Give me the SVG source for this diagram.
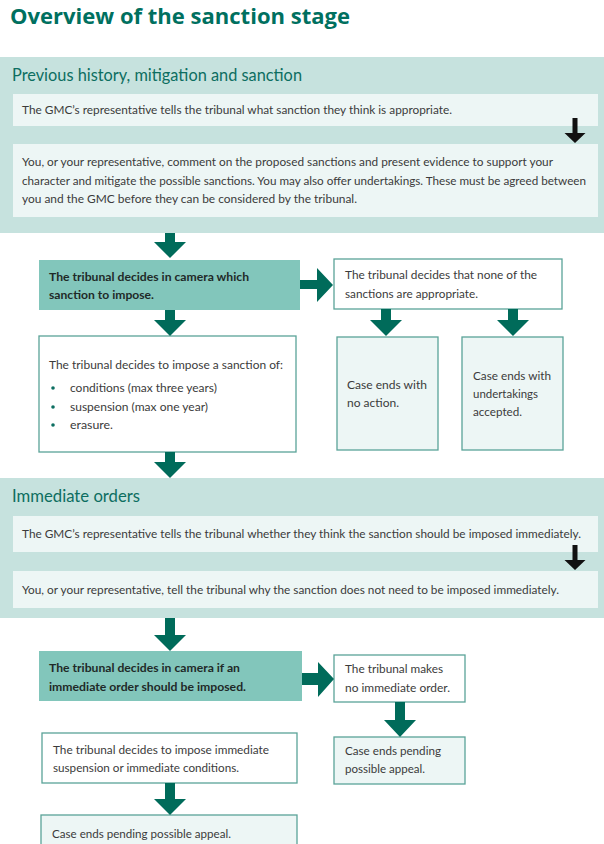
<svg xmlns="http://www.w3.org/2000/svg" width="604" height="844" viewBox="0 0 604 844">
<style>
.t{font-family:Lato,"Open Sans","Liberation Sans",sans-serif;font-size:12px;fill:#3b3b3b}
.b{font-weight:bold;fill:#1f2a28}
.h{font-family:Lato,"Open Sans","Liberation Sans",sans-serif;font-size:16.5px;fill:#0d6e61}
.title{font-family:"Open Sans",Lato,"Liberation Sans",sans-serif;font-size:22px;font-weight:bold;fill:#00705f}
.panel{fill:#c6e2de}
.inner{fill:#edf6f5}
.dark{fill:#82c6bb}
.wbox{fill:#ffffff;stroke:#5aa398;stroke-width:1.3}
.lbox{fill:#edf6f5;stroke:#5aa398;stroke-width:1.3}
.ga{fill:#006b5a}
.ba{fill:#111111}
</style>
<rect width="604" height="844" fill="#ffffff"/>
<text class="title" x="10" y="24" textLength="340" lengthAdjust="spacingAndGlyphs">Overview of the sanction stage</text>

<g id="panel-previous">
<rect class="panel" x="0" y="57" width="604" height="176"/>
<text class="h" x="12" y="81" textLength="290" lengthAdjust="spacingAndGlyphs">Previous history, mitigation and sanction</text>
</g>
<g id="gmc-sanction">
<rect class="inner" x="13" y="94" width="585" height="32"/>
<text class="t" x="22" y="114" textLength="430" lengthAdjust="spacingAndGlyphs">The GMC’s representative tells the tribunal what sanction they think is appropriate.</text>
</g>
<g id="you-comment">
<rect class="inner" x="13" y="144" width="585" height="73"/>
<text class="t" x="22" y="166" textLength="531" lengthAdjust="spacingAndGlyphs">You, or your representative, comment on the proposed sanctions and present evidence to support your</text>
<text class="t" x="22" y="185" textLength="564" lengthAdjust="spacingAndGlyphs">character and mitigate the possible sanctions. You may also offer undertakings. These must be agreed between</text>
<text class="t" x="22" y="203" textLength="335" lengthAdjust="spacingAndGlyphs">you and the GMC before they can be considered by the tribunal.</text>
</g>
<g id="decide-sanction">
<rect class="dark" x="39" y="260" width="261" height="50"/>
<text class="t b" x="49" y="281" textLength="200" lengthAdjust="spacingAndGlyphs">The tribunal decides in camera which</text>
<text class="t b" x="49" y="299" textLength="105" lengthAdjust="spacingAndGlyphs">sanction to impose.</text>
</g>
<g id="none-appropriate">
<rect class="wbox" x="334" y="259" width="228" height="50"/>
<text class="t" x="345" y="279" textLength="192" lengthAdjust="spacingAndGlyphs">The tribunal decides that none of the</text>
<text class="t" x="345" y="298" textLength="133" lengthAdjust="spacingAndGlyphs">sanctions are appropriate.</text>
</g>
<g id="no-action">
<rect class="lbox" x="337" y="337" width="101" height="113"/>
<text class="t" x="347" y="389" textLength="80" lengthAdjust="spacingAndGlyphs">Case ends with</text>
<text class="t" x="347" y="407" textLength="52" lengthAdjust="spacingAndGlyphs">no action.</text>
</g>
<g id="undertakings">
<rect class="lbox" x="462" y="337" width="101" height="113"/>
<text class="t" x="473" y="380" textLength="78" lengthAdjust="spacingAndGlyphs">Case ends with</text>
<text class="t" x="473" y="398" textLength="65" lengthAdjust="spacingAndGlyphs">undertakings</text>
<text class="t" x="473" y="416" textLength="49" lengthAdjust="spacingAndGlyphs">accepted.</text>
</g>
<g id="impose-sanction">
<rect class="wbox" x="39" y="336" width="257" height="116"/>
<text class="t" x="49" y="369" textLength="234" lengthAdjust="spacingAndGlyphs">The tribunal decides to impose a sanction of:</text>
<circle cx="53" cy="388" r="1.8" fill="#0d6e61"/>
<circle cx="53" cy="407" r="1.8" fill="#0d6e61"/>
<circle cx="53" cy="425" r="1.8" fill="#0d6e61"/>
<text class="t" x="70" y="392" textLength="147" lengthAdjust="spacingAndGlyphs">conditions (max three years)</text>
<text class="t" x="70" y="411" textLength="138" lengthAdjust="spacingAndGlyphs">suspension (max one year)</text>
<text class="t" x="70" y="429" textLength="43" lengthAdjust="spacingAndGlyphs">erasure.</text>
</g>

<g id="panel-immediate">
<rect class="panel" x="0" y="478" width="604" height="140"/>
<text class="h" x="12" y="502" textLength="128" lengthAdjust="spacingAndGlyphs">Immediate orders</text>
</g>
<g id="gmc-immediate">
<rect class="inner" x="13" y="516" width="585" height="36"/>
<text class="t" x="22" y="538" textLength="559" lengthAdjust="spacingAndGlyphs">The GMC’s representative tells the tribunal whether they think the sanction should be imposed immediately.</text>
</g>
<g id="you-immediate">
<rect class="inner" x="13" y="571" width="585" height="37"/>
<text class="t" x="22" y="594" textLength="537" lengthAdjust="spacingAndGlyphs">You, or your representative, tell the tribunal why the sanction does not need to be imposed immediately.</text>
</g>
<g id="decide-immediate">
<rect class="dark" x="39" y="651" width="263" height="50"/>
<text class="t b" x="49" y="672" textLength="191" lengthAdjust="spacingAndGlyphs">The tribunal decides in camera if an</text>
<text class="t b" x="49" y="691" textLength="197" lengthAdjust="spacingAndGlyphs">immediate order should be imposed.</text>
</g>
<g id="no-immediate">
<rect class="wbox" x="334" y="655" width="131" height="47"/>
<text class="t" x="345" y="673" textLength="98" lengthAdjust="spacingAndGlyphs">The tribunal makes</text>
<text class="t" x="345" y="692" textLength="105" lengthAdjust="spacingAndGlyphs">no immediate order.</text>
</g>
<g id="pending-right">
<rect class="lbox" x="334" y="737" width="131" height="47"/>
<text class="t" x="345" y="755" textLength="96" lengthAdjust="spacingAndGlyphs">Case ends pending</text>
<text class="t" x="345" y="773" textLength="80" lengthAdjust="spacingAndGlyphs">possible appeal.</text>
</g>
<g id="impose-immediate">
<rect class="wbox" x="42" y="733" width="255" height="50"/>
<text class="t" x="53" y="754" textLength="216" lengthAdjust="spacingAndGlyphs">The tribunal decides to impose immediate</text>
<text class="t" x="53" y="772" textLength="186" lengthAdjust="spacingAndGlyphs">suspension or immediate conditions.</text>
</g>
<g id="pending-left">
<rect class="lbox" x="41" y="815" width="256" height="40"/>
<text class="t" x="52" y="838" textLength="179" lengthAdjust="spacingAndGlyphs">Case ends pending possible appeal.</text>
</g>

<g id="connectors">
<polygon class="ba" points="572.5,118 577.5,118 577.5,133 585.5,133 575,143 564.5,133 572.5,133"/>
<polygon class="ba" points="572.5,545 577.5,545 577.5,560 585.5,560 575,570 564.5,560 572.5,560"/>
<polygon class="ga" points="165,233 175,233 175,242 186,242 170,258 154,242 165,242"/>
<polygon class="ga" points="300,280 317,280 317,268 333,285 317,302 317,289 300,289"/>
<polygon class="ga" points="381,309 391,309 391,320 402,320 386,336 370,320 381,320"/>
<polygon class="ga" points="508,309 518,309 518,320 529,320 513,336 497,320 508,320"/>
<polygon class="ga" points="165,310 175,310 175,320 186,320 170,336 154,320 165,320"/>
<polygon class="ga" points="165,452 175,452 175,462 186,462 170,478 154,462 165,462"/>
<polygon class="ga" points="165,618 175,618 175,635 186,635 170,651 154,635 165,635"/>
<polygon class="ga" points="302,673 318,673 318,662 334,679 318,697 318,685 302,685"/>
<polygon class="ga" points="395,702 405,702 405,720 416,720 400,737 384,720 395,720"/>
<polygon class="ga" points="165,783 175,783 175,799 186,799 170,815 154,799 165,799"/>
</g>
</svg>
